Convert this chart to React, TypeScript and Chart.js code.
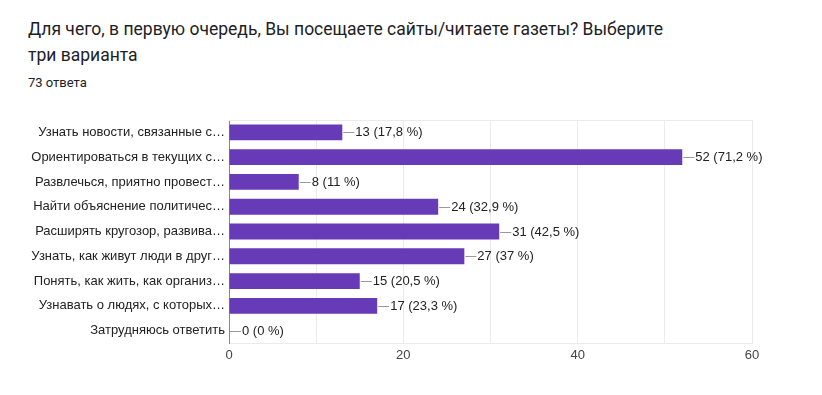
import React, { useEffect, useRef } from "react";
import { Chart, registerables } from "chart.js";

Chart.register(...registerables);

const titleLines = [
  "Для чего, в первую очередь, Вы посещаете сайты/читаете газеты? Выберите",
  "три варианта",
];
const subtitle = "73 ответа";
const totalResponses = 73;

const categories = [
  "Узнать новости, связанные с…",
  "Ориентироваться в текущих с…",
  "Развлечься, приятно провест…",
  "Найти объяснение политичес…",
  "Расширять кругозор, развива…",
  "Узнать, как живут люди в друг…",
  "Понять, как жить, как организ…",
  "Узнавать о людях, с которых…",
  "Затрудняюсь ответить",
];
const counts = [13, 52, 8, 24, 31, 27, 15, 17, 0];
const xTickLabels = ["0", "20", "40", "60"];

const FONT = "Arial, 'Liberation Sans', sans-serif";

function pctLabel(v: number): string {
  const p = Math.round((v / totalResponses) * 1000) / 10;
  const s = Number.isInteger(p) ? String(p) : p.toFixed(1).replace(".", ",");
  return `${v} (${s} %)`;
}

const frameAndLabels = {
  id: "frameAndLabels",
  afterDatasetsDraw(chart: any) {
    const { ctx, chartArea } = chart;
    ctx.save();
    ctx.strokeStyle = "#ebebeb";
    ctx.lineWidth = 1;
    ctx.beginPath();
    ctx.moveTo(chartArea.left, Math.round(chartArea.top) + 0.5);
    ctx.lineTo(chartArea.right, Math.round(chartArea.top) + 0.5);
    ctx.stroke();
    const meta = chart.getDatasetMeta(0);
    ctx.font = `13px ${FONT}`;
    ctx.textBaseline = "middle";
    ctx.textAlign = "left";
    meta.data.forEach((bar: any, i: number) => {
      const x = bar.x;
      const y = Math.round(bar.y) + 0.5;
      ctx.strokeStyle = "#999999";
      ctx.beginPath();
      ctx.moveTo(x + 1, y);
      ctx.lineTo(x + 12, y);
      ctx.stroke();
      ctx.fillStyle = "#222222";
      ctx.fillText(pctLabel(counts[i]), x + 13, bar.y + 0.5);
    });
    ctx.restore();
  },
};

export default function App() {
  const ref = useRef<HTMLCanvasElement>(null);
  useEffect(() => {
    if (!ref.current) return;
    const chart = new Chart(ref.current, {
      type: "bar",
      data: {
        labels: categories,
        datasets: [
          {
            data: counts,
            backgroundColor: "#673ab7",
            borderWidth: 0,
            barPercentage: 0.64,
            categoryPercentage: 1,
          },
        ],
      },
      options: {
        indexAxis: "y",
        animation: false,
        responsive: false,
        maintainAspectRatio: false,
        layout: { padding: { left: 0, right: 70, top: 20, bottom: 7 } },
        plugins: { legend: { display: false }, tooltip: { enabled: false } },
        scales: {
          x: {
            min: 0,
            max: 60,
            ticks: {
              stepSize: 10,
              autoSkip: false,
              maxRotation: 0,
              padding: 5,
              color: "#444444",
              font: { family: FONT, size: 13 },
              callback: (v: any) =>
                xTickLabels.includes(String(v)) ? String(v) : "",
            },
            grid: { color: "#ebebeb", drawTicks: false },
            border: { color: "#ebebeb" },
            afterFit: (s: any) => {
              s.height = 30;
            },
          },
          y: {
            ticks: {
              padding: 4,
              color: "#222222",
              font: { family: FONT, size: 13 },
              autoSkip: false,
            },
            grid: { display: false, drawTicks: false },
            border: { color: "#888888", width: 1 },
            afterFit: (s: any) => {
              s.width = 229;
            },
          },
        },
      },
      plugins: [frameAndLabels],
    });
    return () => chart.destroy();
  }, []);

  return (
    <div
      style={{
        position: "fixed",
        left: 0,
        top: 0,
        width: 822,
        height: 395,
        background: "#ffffff",
        overflow: "hidden",
      }}
    >
      <div
        style={{
          position: "absolute",
          left: 28,
          top: 16,
          fontFamily: "Roboto, Arial, sans-serif",
          fontSize: 17.5,
          lineHeight: "26px",
          color: "#202124",
          whiteSpace: "nowrap",
        }}
      >
        {titleLines.map((l, i) => (
          <div key={i}>{l}</div>
        ))}
      </div>
      <div
        style={{
          position: "absolute",
          left: 28,
          top: 75,
          fontFamily: "Roboto, Arial, sans-serif",
          fontSize: 13,
          color: "#202124",
        }}
      >
        {subtitle}
      </div>
      <canvas
        ref={ref}
        width={822}
        height={280}
        style={{ position: "absolute", left: 0, top: 100, width: 822, height: 280 }}
      />
    </div>
  );
}
